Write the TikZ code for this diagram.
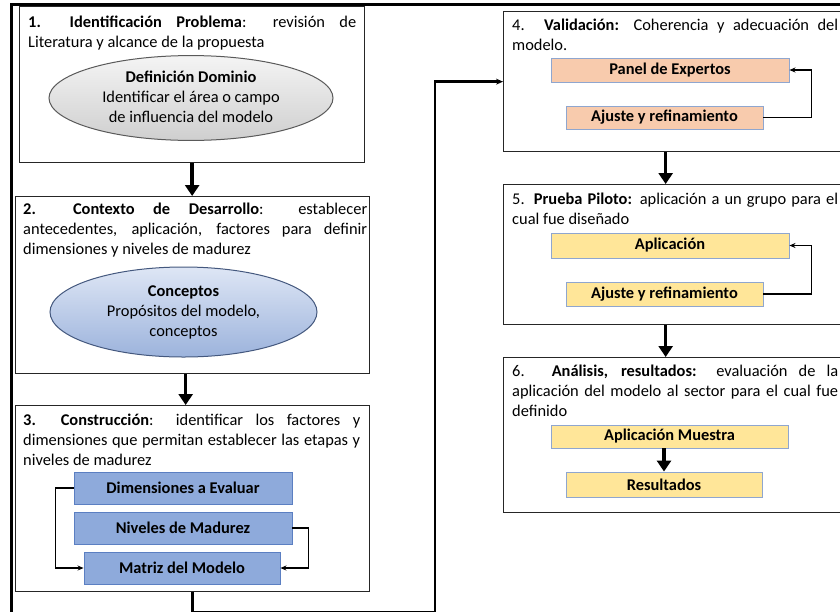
\documentclass[tikz,border=0pt]{standalone}
\usepackage{fontspec}
\setmainfont{Carlito}
\usetikzlibrary{shapes.geometric,arrows.meta,calc}

\definecolor{ellgraytop}{HTML}{F4F4F4}
\definecolor{ellgraybot}{HTML}{CFCFCF}
\definecolor{ellgrayline}{HTML}{5A5A5A}
\definecolor{ellbluetop}{HTML}{DEE6F5}
\definecolor{ellbluebot}{HTML}{9CB3DC}
\definecolor{ellblueline}{HTML}{44587E}
\definecolor{bluefill}{HTML}{8EAADB}
\definecolor{blueline}{HTML}{5B7FC2}
\definecolor{orangefill}{HTML}{F8CBAD}
\definecolor{yellowfill}{HTML}{FFE699}
\definecolor{paleline}{HTML}{8FA6CF}

\begin{document}
\hyphenpenalty=10000
\tolerance=10000
\begin{tikzpicture}[x=1pt,y=-1pt,
  txt/.style={font=\fontsize{16.4}{20}\selectfont},
  stage/.style={draw=black!85,line width=1.3pt,fill=white,anchor=north west,inner sep=0pt},
  head/.style={txt,anchor=north west,inner sep=0pt,align=justify},
  oval/.style={txt,ellipse,inner sep=0pt,align=center,line width=1pt},
  grayoval/.style={oval,draw=ellgrayline,top color=ellgraytop,bottom color=ellgraybot},
  blueoval/.style={oval,draw=ellblueline,top color=ellbluetop,bottom color=ellbluebot},
  tag/.style={txt,font=\fontsize{16.4}{20}\selectfont\bfseries,inner sep=0pt,line width=0.9pt},
  bluetag/.style={tag,draw=blueline,fill=bluefill},
  orangetag/.style={tag,draw=paleline,fill=orangefill},
  yellowtag/.style={tag,draw=paleline,fill=yellowfill},
  flow/.style={line width=3.6pt,-{Triangle[width=14pt,length=11pt]}},
  link/.style={line width=1.5pt,-{Stealth[length=6pt,width=5pt]}},
  backlink/.style={line width=2.4pt,-{Stealth[length=7pt,width=6pt]}},
  frame/.style={line width=2.6pt}
]
\clip (0,0) rectangle (840,611);
\fill[white] (0,0) rectangle (840,611);

% outer frame
\draw[frame] (841,4.5) -- (11.5,4.5) -- (11.5,612);

% ---------- left column ----------
\node[stage,minimum width=345pt,minimum height=156pt] (b1) at (19,6) {};
\node[head,text width=328pt] (t1) at (28,13)
  {\strut\textbf{1.\ \ Identificación Problema}: revisión de\linebreak Literatura y alcance de la propuesta};
\node[grayoval,minimum width=284pt,minimum height=83pt] (e1) at (191,98)
  {\strut\textbf{Definición Dominio}\\\strut Identificar el área o campo\\\strut de influencia del modelo};

\node[stage,minimum width=354pt,minimum height=177pt] (b2) at (15,196) {};
\node[head,text width=344pt] (t2) at (23,200)
  {\strut\textbf{2.\ \ Contexto de Desarrollo}: establecer antecedentes, aplicación, factores para definir dimensiones y niveles de madurez};
\node[blueoval,minimum width=267pt,minimum height=90pt] (e2) at (183.5,312)
  {\strut\textbf{Conceptos}\\\strut Propósitos del modelo,\\\strut conceptos};

\node[stage,minimum width=354pt,minimum height=186pt] (b3) at (15,405) {};
\node[head,text width=337pt] (t3) at (23,411)
  {\strut\textbf{3.\ \ Construcción}: identificar los factores y dimensiones que permitan establecer las etapas y niveles de madurez};
\node[bluetag,minimum width=218pt,minimum height=32pt] (dim) at (183,488) {Dimensiones a Evaluar};
\node[bluetag,minimum width=218pt,minimum height=32pt] (niv) at (183,528) {Niveles de Madurez};
\node[bluetag,minimum width=196pt,minimum height=32pt] (mat) at (182,568) {Matriz del Modelo};
\draw[link] (dim.west) -- ++(-18,0) |- (mat.west);
\draw[link] (niv.east) -- ++(16,0) |- (mat.east);

% ---------- right column ----------
\node[stage,minimum width=346pt,minimum height=140pt] (b4) at (503,11) {};
\node[head,text width=326pt] (t4) at (512,16.5)
  {\strut 4. \textbf{Validación:} Coherencia y adecuación del modelo.};
\node[orangetag,minimum width=238pt,minimum height=24pt] (panel) at (670,70) {Panel de Expertos};
\node[orangetag,minimum width=197pt,minimum height=23pt] (aj4) at (664.5,117.5) {Ajuste y refinamiento};
\draw[link] (aj4.east) -- ++(48,0) |- (panel.east);

\node[stage,minimum width=346pt,minimum height=140pt] (b5) at (503,184) {};
\node[head,text width=326pt] (t5) at (512,190)
  {\strut 5. \textbf{Prueba Piloto:} aplicación a un grupo para el cual fue diseñado};
\node[yellowtag,minimum width=238pt,minimum height=25pt] (apl) at (670,245.5) {Aplicación};
\node[yellowtag,minimum width=197pt,minimum height=24pt] (aj5) at (664.5,294) {Ajuste y refinamiento};
\draw[link] (aj5.east) -- ++(48,0) |- (apl.east);

\node[stage,minimum width=346pt,minimum height=155pt] (b6) at (503,357) {};
\node[head,text width=326pt] (t6) at (512,362.5)
  {\strut 6. \textbf{Análisis, resultados:} evaluación de la aplicación del modelo al sector para el cual fue definido};
\node[yellowtag,minimum width=237pt,minimum height=23pt] (mue) at (669.5,436.5) {Aplicación Muestra};
\node[yellowtag,minimum width=196pt,minimum height=25pt] (res) at (664,484.5) {Resultados};

% ---------- stage-to-stage flow ----------
\draw[flow] (b1.south) -- (b1.south |- b2.north);
\draw[flow] ([xshift=-7pt]b2.south) -- ([xshift=-7pt]b3.north);
\draw[flow] ([xshift=-11pt]b4.south) -- ([xshift=-11pt]b5.north);
\draw[flow] ([xshift=-11pt]b5.south) -- ([xshift=-11pt]b6.north);
\draw[flow] (mue.south -| res.north) -- (res.north);

\coordinate (turn) at (435,612);
\draw[backlink] (b3.south) |- (turn) |- (b4.west);
\end{tikzpicture}
\end{document}
